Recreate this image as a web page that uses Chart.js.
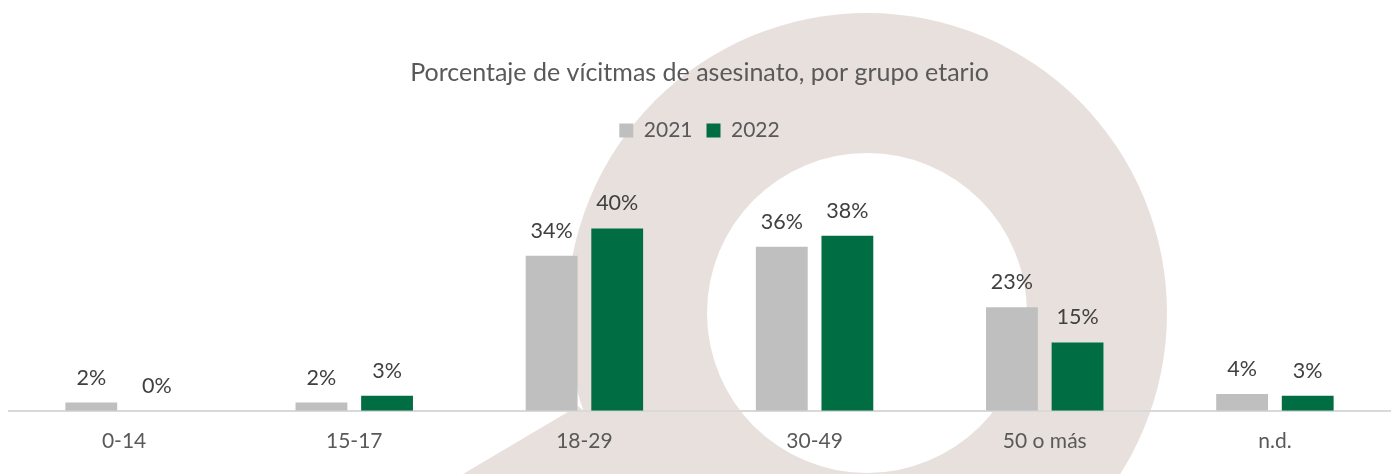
<!DOCTYPE html>
<html>
<head>
<meta charset="utf-8">
<script src="https://cdn.jsdelivr.net/npm/chart.js@4/dist/chart.umd.min.js"></script>
<style>
  html, body { margin: 0; padding: 0; background: #fff; }
  #wrap { width: 1399px; height: 474px; }
</style>
</head>
<body>
<div id="wrap"><canvas id="chart"></canvas></div>
<script>
const categories = ['0-14', '15-17', '18-29', '30-49', '50 o más', 'n.d.']
const years = ['2021', '2022']
const values2021 = [1.8, 1.8, 34, 36, 22.7, 3.7]
const values2022 = [0, 3.3, 40, 38.4, 15, 3.3]

const FONT = 'Lato, "Open Sans", sans-serif'

// beige ring in the background (watermark-like decoration)
const backdrop = {
  id: 'backdrop',
  beforeDraw: (chart) => {
    const ctx = chart.ctx
    ctx.save()
    ctx.fillStyle = '#fff'
    ctx.fillRect(0, 0, chart.width, chart.height)
    ctx.fillStyle = '#e8e0dd'
    ctx.beginPath()
    ctx.arc(867, 313, 300, 0, Math.PI * 2)
    ctx.fill()
    ctx.beginPath()
    ctx.moveTo(463, 474)
    ctx.lineTo(578, 406)
    ctx.lineTo(660, 474)
    ctx.closePath()
    ctx.fill()
    ctx.fillStyle = '#fff'
    ctx.beginPath()
    ctx.arc(867, 313, 160, 0, Math.PI * 2)
    ctx.fill()
    ctx.restore()
  },
}

const valueLabels = {
  id: 'valueLabels',
  afterDatasetsDraw: (chart) => {
    const ctx = chart.ctx
    ctx.save()
    ctx.font = '21.5px ' + FONT
    ctx.fillStyle = '#404040'
    ctx.textAlign = 'center'
    ctx.textBaseline = 'middle'
    chart.data.datasets.forEach((ds, i) => {
      chart.getDatasetMeta(i).data.forEach((bar, j) => {
        ctx.fillText(`${Math.round(ds.data[j])}%`, bar.x, bar.y - 25)
      })
    })
    ctx.restore()
  },
}

new Chart(document.getElementById('chart').getContext('2d'), {
  type: 'bar',
  data: {
    labels: categories,
    datasets: [
      {
        label: years[0],
        data: values2021,
        backgroundColor: '#bfbfbf',
        borderWidth: 0,
      },
      {
        label: years[1],
        data: values2022,
        backgroundColor: '#006e42',
        borderWidth: 0,
      },
    ],
  },
  options: {
    responsive: true,
    maintainAspectRatio: false,
    animation: false,
    categoryPercentage: 0.57,
    barPercentage: 0.79,
    layout: {
      padding: { left: 9, right: 9, top: 0, bottom: 10 },
    },
    plugins: {
      title: {
        display: true,
        text: 'Porcentaje de vícitmas de asesinato, por grupo etario',
        color: '#595959',
        font: { family: FONT, size: 25, weight: 'normal' },
        padding: { top: 58, bottom: 18 },
      },
      legend: {
        display: true,
        labels: {
          color: '#595959',
          font: { family: FONT, size: 21 },
          boxWidth: 14,
          boxHeight: 14,
          padding: 14,
        },
      },
      tooltip: { enabled: false },
    },
    scales: {
      x: {
        grid: { display: false },
        border: { display: true, color: '#d9d9d9', width: 2 },
        ticks: {
          color: '#595959',
          font: { family: FONT, size: 21 },
          padding: 10,
        },
      },
      y: {
        display: false,
        min: 0,
        max: 57,
      },
    },
  },
  plugins: [backdrop, valueLabels],
})
</script>
</body>
</html>
